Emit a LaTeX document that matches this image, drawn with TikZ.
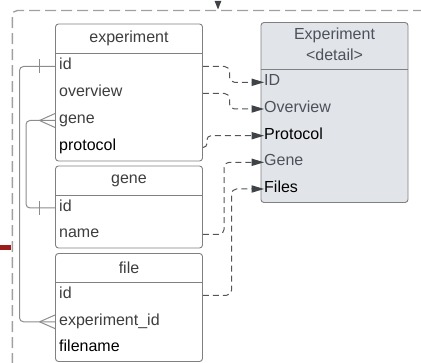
\documentclass[tikz,border=0pt]{standalone}
\usepackage{fontspec}
\setmainfont{Liberation Sans}
\definecolor{boxline}{HTML}{808080}
\definecolor{txtgray}{HTML}{3D3D3D}
\definecolor{dettxt}{HTML}{4D525A}
\definecolor{detfill}{HTML}{E1E4E9}
\definecolor{linkgray}{HTML}{555555}
\definecolor{headgray}{HTML}{3F4246}
\definecolor{ergray}{HTML}{8C8C8C}
\definecolor{framegray}{HTML}{A0A0A0}
\definecolor{barred}{HTML}{9C1C1C}

\begin{document}
\begin{tikzpicture}[x=1pt,y=-1pt,
  tablebox/.style={draw=boxline, line width=0.9pt, rounded corners=3pt,
    minimum width=147pt, inner sep=0pt},
  divider/.style={draw=boxline, line width=0.9pt},
  rowtext/.style={anchor=west, inner sep=0pt, text height=11pt, text depth=4pt,
    font=\fontsize{16}{19}\selectfont, text=txtgray},
  headtext/.style={inner sep=0pt, font=\fontsize{16}{19}\selectfont,
    text=txtgray, align=center},
  link/.style={draw=linkgray, line width=1pt, dash pattern=on 6pt off 4pt,
    rounded corners=5pt},
  erline/.style={draw=ergray, line width=1pt, rounded corners=4pt},
  crow/.style={draw=ergray, line width=1pt},
]
\useasboundingbox (0,0) rectangle (421,363);

% ---- detail view (drawn first so the heads sit on top) ----
\node[tablebox, fill=detfill, minimum height=180pt] (det) at (334.5,112.5) {};
\coordinate (deth) at (0,69);
\draw[divider] (det.west |- deth) -- (det.east |- deth);
\node[headtext, text=dettxt] (dettitle) at (334.5,44) {Experiment\\[2pt]<detail>};
\node[rowtext, text=dettxt] (d-id) at (264,82.3)  {ID};
\node[rowtext, text=dettxt] (d-ov) at (264,109)   {Overview};
\node[rowtext, text=black]  (d-pr) at (264,135.7) {Protocol};
\node[rowtext, text=dettxt] (d-gn) at (264,162.3) {Gene};
\node[rowtext, text=black]  (d-fl) at (264,189)   {Files};

% outer dashed frame and the arrow entering it
\begin{scope}
\clip (0,0) rectangle (421,363);
\coordinate (fr1) at (440,10.5);
\coordinate (fr2) at (12.3,10.5);
\coordinate (fr3) at (12.3,380);
\draw[framegray, line width=1.4pt, dash pattern=on 11pt off 5pt, rounded corners=5pt]
  (fr1) -- (fr2) -- (fr3);
\end{scope}
\coordinate (topsrc) at (218,0);
\coordinate (toptgt) at (218,9.5);
\fill[headgray] (toptgt) -- ++(-3.4,-8.5) -- ++(6.8,0) -- cycle;

% red marker on the left
\coordinate (rb1) at (0,247.5);
\coordinate (rb2) at (11,247.5);
\draw[barred, line width=5pt] (rb1) -- (rb2);

% ---- table: experiment ----
\node[tablebox, minimum height=137pt] (exp) at (129,92.5) {};
\coordinate (exph) at (0,53);
\draw[divider] (exp.west |- exph) -- (exp.east |- exph);
\node[headtext] (exptitle) at (129,38.5) {experiment};
\node[rowtext] (e-id)  at (59,66.5)  {id};
\node[rowtext] (e-ov)  at (59,93.5)  {overview};
\node[rowtext] (e-gn)  at (59,120.5) {gene};
\node[rowtext, text=black] (e-pr) at (59,147.5) {protocol};

% ---- table: gene ----
\node[tablebox, minimum height=82pt] (gen) at (129,207) {};
\coordinate (genh) at (0,195);
\draw[divider] (gen.west |- genh) -- (gen.east |- genh);
\node[headtext] (gentitle) at (129,180.5) {gene};
\node[rowtext] (g-id)   at (59,208)   {id};
\node[rowtext] (g-name) at (59,234.5) {name};

% ---- table: file ----
\node[tablebox, minimum height=108pt] (fil) at (129,307.5) {};
\coordinate (filh) at (0,282);
\draw[divider] (fil.west |- filh) -- (fil.east |- filh);
\node[headtext] (filtitle) at (129,267.5) {file};
\node[rowtext] (f-id)  at (59,295.3) {id};
\node[rowtext] (f-eid) at (59,321.8) {experiment\_id};
\node[rowtext, text=black] (f-fn) at (59,348.3) {filename};

% ---- relations between tables ----
% experiment.id (one) -> file.experiment_id (many)
\coordinate (ra1) at (19.5,66.5);
\coordinate (ra2) at (19.5,321.8);
\draw[erline] (e-id -| exp.west) -- (ra1) -- (ra2) -- (f-eid -| fil.west);
\draw[crow] (e-id -| exp.west) ++(-15.5,-7) -- ++(0,14);
\draw[crow] (f-eid -| fil.west) ++(-15.5,0) coordinate (cfa) -- ++(15.5,-6.8)
  (cfa) -- ++(15.5,6.8);
% experiment.gene (many) -> gene.id (one)
\coordinate (rb1a) at (26,120.5);
\coordinate (rb2a) at (26,208);
\draw[erline] (e-gn -| exp.west) -- (rb1a) -- (rb2a) -- (g-id -| gen.west);
\draw[crow] (e-gn -| exp.west) ++(-15.5,0) coordinate (cfb) -- ++(15.5,-7)
  (cfb) -- ++(15.5,7);
\draw[crow] (g-id -| gen.west) ++(-15.5,-7) -- ++(0,14);

% ---- fields feeding the detail view (dashed, with filled heads) ----
\coordinate (k1a) at (229.5,66.5);  \coordinate (k1b) at (229.5,82.3);
\draw[link] (e-id -| exp.east) -- (k1a) -- (k1b) -- ([xshift=-8pt]d-id.west);
\fill[headgray] (d-id.west) -- ++(-12.5,-3.8) -- ++(0,7.6) -- cycle;
\coordinate (k2a) at (229.5,93.5);  \coordinate (k2b) at (229.5,109);
\draw[link] (e-ov -| exp.east) -- (k2a) -- (k2b) -- ([xshift=-8pt]d-ov.west);
\fill[headgray] (d-ov.west) -- ++(-12.5,-3.8) -- ++(0,7.6) -- cycle;
\coordinate (k3a) at (207,147.5);   \coordinate (k3b) at (207,135.7);
\draw[link, rounded corners=4pt] (e-pr -| exp.east) -- (k3a) -- (k3b) -- ([xshift=-8pt]d-pr.west);
\fill[headgray] (d-pr.west) -- ++(-12.5,-3.8) -- ++(0,7.6) -- cycle;
\coordinate (k4a) at (224,234.5);   \coordinate (k4b) at (224,162.3);
\draw[link] (g-name -| gen.east) -- (k4a) -- (k4b) -- ([xshift=-8pt]d-gn.west);
\fill[headgray] (d-gn.west) -- ++(-12.5,-3.8) -- ++(0,7.6) -- cycle;
\coordinate (k5a) at (231.5,295.3); \coordinate (k5b) at (231.5,189);
\draw[link] (f-id -| fil.east) -- (k5a) -- (k5b) -- ([xshift=-8pt]d-fl.west);
\fill[headgray] (d-fl.west) -- ++(-12.5,-3.8) -- ++(0,7.6) -- cycle;
\end{tikzpicture}
\end{document}
